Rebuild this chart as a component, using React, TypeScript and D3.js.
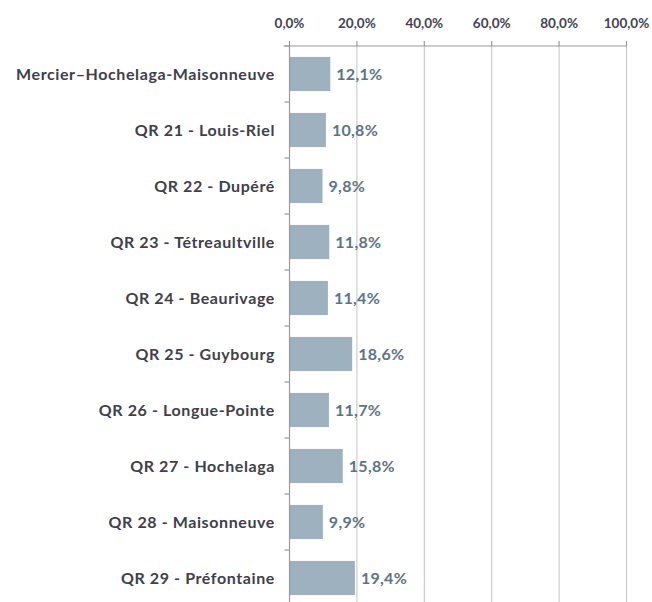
import React from "react";
import * as d3 from "d3";

const categories = [
  "Mercier–Hochelaga-Maisonneuve",
  "QR 21 - Louis-Riel",
  "QR 22 - Dupéré",
  "QR 23 - Tétreaultville",
  "QR 24 - Beaurivage",
  "QR 25 - Guybourg",
  "QR 26 - Longue-Pointe",
  "QR 27 - Hochelaga",
  "QR 28 - Maisonneuve",
  "QR 29 - Préfontaine",
];
const values = [12.1, 10.8, 9.8, 11.8, 11.4, 18.6, 11.7, 15.8, 9.9, 19.4];
const ticks = [0, 20, 40, 60, 80, 100];

const W = 652;
const H = 602;
const margin = { left: 289.5, right: 25.5, top: 46, bottom: -4 };
const FONT = "Lato, sans-serif";

const fmt = (v: number) => v.toFixed(1).replace(".", ",") + "%";

export default function App() {
  const x = d3.scaleLinear().domain([0, 100]).range([margin.left, W - margin.right]);
  const y = d3
    .scaleBand<string>()
    .domain(categories)
    .range([margin.top, H - margin.bottom])
    .paddingInner(0.39)
    .paddingOuter(0.195);
  const step = y.step();
  const boundaries = d3.range(categories.length + 1).map((i) => margin.top + i * step);
  return (
    <svg
      width={W}
      height={H}
      style={{ position: "absolute", left: 0, top: 0, background: "#fff" }}
      fontFamily={FONT}
    >
      {ticks.slice(1).map((t) => (
        <line key={"g" + t} x1={x(t)} x2={x(t)} y1={margin.top} y2={H + 10} stroke="#c4c4c4" strokeWidth={1} />
      ))}
      {values.map((v, i) => (
        <rect
          key={"b" + i}
          x={x(0)}
          y={y(categories[i])}
          width={x(v) - x(0)}
          height={y.bandwidth()}
          fill="#9eb1bf"
        />
      ))}
      <line x1={x(0) - 6} x2={x(100)} y1={margin.top} y2={margin.top} stroke="#9a9a9a" strokeWidth={1.2} />
      {ticks.map((t) => (
        <line key={"t" + t} x1={x(t)} x2={x(t)} y1={margin.top - 5} y2={margin.top} stroke="#9a9a9a" strokeWidth={1.2} />
      ))}
      <line x1={x(0)} x2={x(0)} y1={margin.top} y2={H + 10} stroke="#9a9a9a" strokeWidth={1.2} />
      {boundaries.map((b, i) => (
        <line key={"l" + i} x1={x(0) - 5} x2={x(0)} y1={b} y2={b} stroke="#9a9a9a" strokeWidth={1.2} />
      ))}
      {ticks.map((t) => (
        <text
          key={"tl" + t}
          x={x(t)}
          y={28}
          textAnchor="middle"
          fontSize={13.5}
          fontWeight={700}
          fill="#404352"
        >
          {fmt(t)}
        </text>
      ))}
      {categories.map((c, i) => (
        <text
          key={"c" + i}
          x={275}
          y={(y(c) as number) + y.bandwidth() / 2}
          dy="0.35em"
          textAnchor="end"
          fontSize={16}
          letterSpacing={0.6}
          fontWeight={700}
          fill="#3d404d"
        >
          {c}
        </text>
      ))}
      {values.map((v, i) => (
        <text
          key={"v" + i}
          x={x(v) + 6}
          y={(y(categories[i]) as number) + y.bandwidth() / 2}
          dy="0.35em"
          fontSize={16}
          letterSpacing={0.3}
          fontWeight={700}
          fill="#5b7489"
        >
          {fmt(v)}
        </text>
      ))}
    </svg>
  );
}
